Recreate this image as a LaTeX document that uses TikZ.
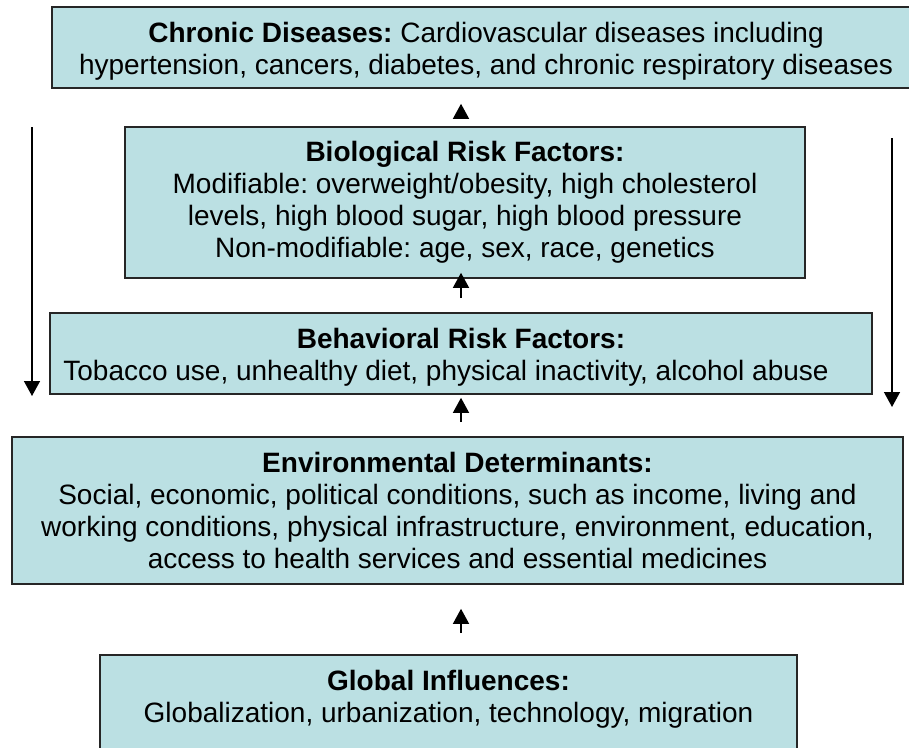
\documentclass[tikz,border=0pt]{standalone}
\usepackage{fontspec}
\setmainfont{Liberation Sans}
\usepackage{tikz}
\usetikzlibrary{arrows.meta}
\definecolor{boxblue}{RGB}{187,224,227}

\begin{document}
\frenchspacing
\begin{tikzpicture}[x=1pt,y=-1pt,
    box/.style={draw=black!85, line width=1.6pt, fill=boxblue, align=center, inner sep=0pt, font=\fontsize{28}{32}\selectfont},
    link/.style={-{Triangle[width=16pt,length=15pt]}, line width=1.4pt, color=black}]
          \path[use as bounding box, clip] (0,0) rectangle (909,747);
          \coordinate (l1) at (32,127);
          \coordinate (l2) at (32,396);
          \coordinate (r1) at (892,138);
          \coordinate (r2) at (892,407);
          \node (chronic) at (486,47.5) [box, minimum width=868pt, minimum height=81pt] {\rule{0pt}{27pt}\textbf{Chronic Diseases:} Cardiovascular diseases including\\ hypertension, cancers, diabetes, and chronic respiratory diseases};
          \node (bio) at (465,202.5) [box, minimum width=680pt, minimum height=151pt] {\textbf{Biological Risk Factors:}\\ Modifiable: overweight/obesity, high cholesterol\\ levels, high blood sugar, high blood pressure\\ Non-modifiable: age, sex, race, genetics};
          \node (behav) at (461,353.5) [box, minimum width=822pt, minimum height=81pt] {\rule{0pt}{27pt}\textbf{Behavioral Risk Factors:}\\ Tobacco use, unhealthy diet, physical inactivity, alcohol abuse\hspace*{30pt}};
          \node (env) at (457.5,510.5) [box, minimum width=891pt, minimum height=147pt] {\textbf{Environmental Determinants:}\\ Social, economic, political conditions, such as income, living and\\ working conditions, physical infrastructure, environment, education,\\ access to health services and essential medicines};
          \node (glob) at (448.5,712.5) [box, minimum width=697pt, minimum height=115pt] {\textbf{Global Influences:}\\ Globalization, urbanization, technology, migration\\ \mbox{}};
          \draw[link, shorten <=8pt, shorten >=15pt] (behav.north |- bio.north) -- (behav.north |- chronic.south);
          \draw[link, shorten <=14pt, shorten >=-6pt] (behav.north) -- (behav.north |- bio.south);
          \draw[link, shorten <=14pt, shorten >=3pt] (env.north -| behav.south) -- (behav.south);
          \draw[link, shorten <=21pt, shorten >=24pt] (glob.north -| behav.south) -- (env.south -| behav.south);
          \draw[link] (l1) -- (l2);
          \draw[link] (r1) -- (r2);
        \end{tikzpicture}
\end{document}
